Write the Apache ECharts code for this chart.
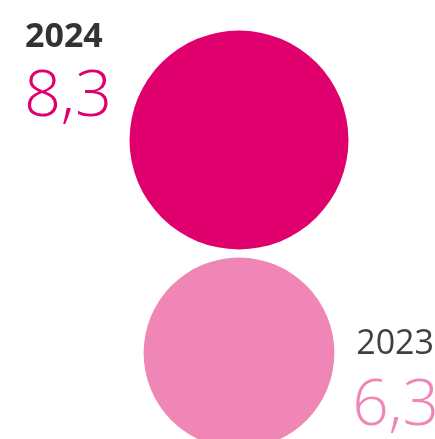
<!DOCTYPE html>
<html>
<head>
<meta charset="utf-8">
<script src="https://cdn.jsdelivr.net/npm/echarts@6/dist/echarts.min.js"></script>
<style>html,body{margin:0;padding:0;background:#fff}#c{width:435px;height:439px}</style>
</head>
<body>
<div id="c"></div>
<script>
const years = ['2024', '2023'];
const values = [8.3, 6.3];
const valueLabels = ['8,3', '6,3'];
const colors = ['#df006e', '#ef86b6'];

const chart = echarts.init(document.getElementById('c'));
const k = 76.0;
chart.setOption({
  animation: false,
  grid: { left: 139, width: 200, top: 0, height: 439, containLabel: false },
  xAxis: { type: 'category', data: ['x'], show: false },
  yAxis: { type: 'value', inverse: true, min: -0.6573, max: 1.4038, show: false },
  series: [{
    type: 'scatter',
    data: values.map((v, i) => ({ value: ['x', i], itemStyle: { color: colors[i], opacity: 1 } })),
    symbolSize: (val, p) => k * Math.sqrt(values[p.dataIndex]),
    clip: false,
    emphasis: { disabled: true }
  }],
  graphic: [
    { type: 'text', left: 25, top: 20, style: { text: years[0], font: 'bold 34px "Open Sans"', fill: '#333333' } },
    { type: 'text', left: 24, top: 67, style: { text: valueLabels[0], font: '300 65px "Open Sans Light", "Open Sans"', fill: colors[0] } },
    { type: 'text', right: 1, top: 327, style: { text: years[1], font: '34px "Open Sans"', fill: '#404040' } },
    { type: 'text', right: -4, top: 376, style: { text: valueLabels[1], font: '300 64px "Open Sans Light", "Open Sans"', fill: colors[1] } }
  ]
});
</script>
</body>
</html>
